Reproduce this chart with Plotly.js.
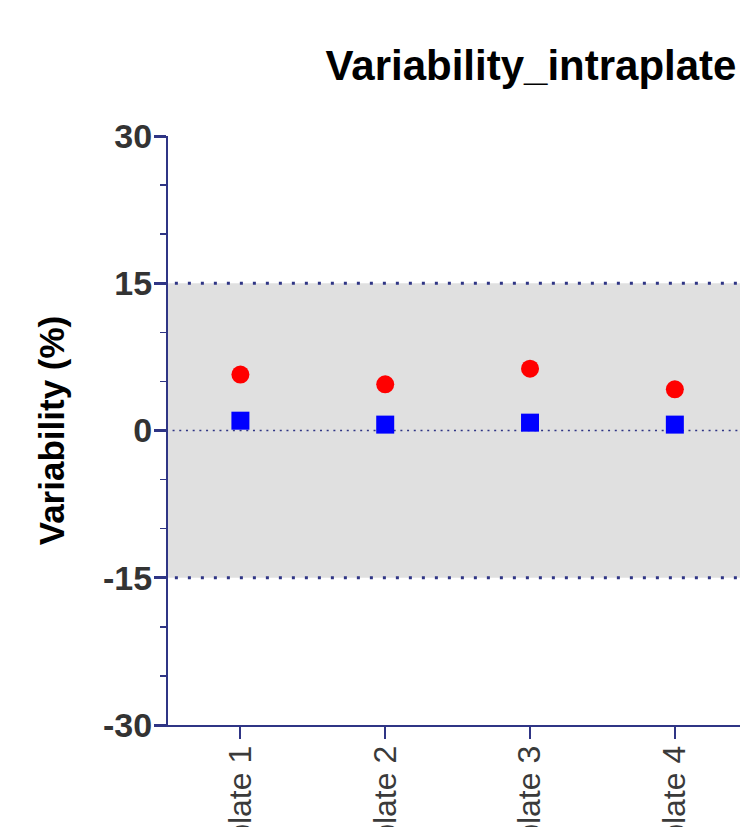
<!DOCTYPE html>
<html>
<head>
<meta charset="utf-8">
<script src="https://cdn.plot.ly/plotly-3.0.1.min.js"></script>
<style>html,body{margin:0;padding:0;background:#fff;}#chart{width:740px;height:827px;}</style>
</head>
<body>
<div id="chart"></div>
<script>
var categories = ["plate 1", "plate 2", "plate 3", "plate 4"];
var seriesRed = [5.7, 4.7, 6.3, 4.2];
var seriesBlue = [1.0, 0.6, 0.8, 0.6];
var yMajorTicks = [-30, -15, 0, 15, 30];
var yTickLabels = ["-30", "-15", "0", "15", "30"];
var bandLimits = [-15, 15];
var centerLine = 0;

var axisColor = "#2f3585";
var fontFam = "Liberation Sans, Arial, sans-serif";

var traces = [
  {
    type: "scatter", mode: "markers", x: categories, y: seriesRed,
    marker: {symbol: "circle", size: 18, color: "#ff0000", line: {width: 0}},
    showlegend: false, cliponaxis: false, hoverinfo: "x+y"
  },
  {
    type: "scatter", mode: "markers", x: categories, y: seriesBlue,
    marker: {symbol: "square", size: 18, color: "#0000ff", line: {width: 0}},
    showlegend: false, cliponaxis: false, hoverinfo: "x+y"
  }
];

var shapes = [
  {type: "rect", xref: "paper", yref: "y", x0: 0, x1: 1, y0: bandLimits[0], y1: bandLimits[1],
   fillcolor: "#e0e0e0", line: {width: 0}, layer: "below"},
  {type: "line", xref: "paper", yref: "y", x0: 0.012, x1: 1, y0: bandLimits[1], y1: bandLimits[1],
   line: {color: axisColor, width: 3, dash: "3px,10px"}, layer: "above"},
  {type: "line", xref: "paper", yref: "y", x0: 0.012, x1: 1, y0: bandLimits[0], y1: bandLimits[0],
   line: {color: axisColor, width: 3, dash: "3px,10px"}, layer: "above"},
  {type: "line", xref: "paper", yref: "y", x0: 0.008, x1: 1, y0: centerLine, y1: centerLine,
   line: {color: axisColor, width: 1.5, dash: "2px,4.7px"}, layer: "below"}
];

var layout = {
  width: 740, height: 827,
  margin: {l: 168, r: 0, t: 136, b: 102, pad: 0},
  paper_bgcolor: "#ffffff", plot_bgcolor: "rgba(0,0,0,0)",
  font: {family: fontFam, color: "#333333"},
  title: {
    text: "<b>Variability_intraplate</b>",
    font: {family: fontFam, size: 42, color: "#000000"},
    x: 0.7176, xref: "container", xanchor: "center",
    y: 0.921, yref: "container", yanchor: "middle"
  },
  xaxis: {
    type: "category", range: [-0.5, 3.45],
    showgrid: false, zeroline: false,
    showline: true, linecolor: axisColor, linewidth: 2,
    ticks: "outside", ticklen: 12, tickwidth: 2, tickcolor: axisColor,
    tickangle: -90,
    ticklabelstandoff: -6,
    tickfont: {family: fontFam, size: 32, color: "#3a3a3a"}
  },
  yaxis: {
    range: [-30, 30],
    tickmode: "array", tickvals: yMajorTicks, ticktext: yTickLabels,
    showgrid: false, zeroline: false,
    showline: true, linecolor: axisColor, linewidth: 2,
    ticks: "outside", ticklen: 12, tickwidth: 3, tickcolor: axisColor,
    ticklabelstandoff: -5,
    tickfont: {family: fontFam, size: 34, color: "#333333", weight: "bold"},
    minor: {tickmode: "linear", tick0: 0, dtick: 5, ticks: "outside", ticklen: 6, tickwidth: 1.5, tickcolor: axisColor, showgrid: false},
    title: {
      text: "<b>Variability (%)</b>",
      font: {family: fontFam, size: 35, color: "#000000"},
      standoff: 28
    }
  },
  shapes: shapes
};

Plotly.newPlot("chart", traces, layout, {displayModeBar: false, staticPlot: true});
</script>
</body>
</html>
